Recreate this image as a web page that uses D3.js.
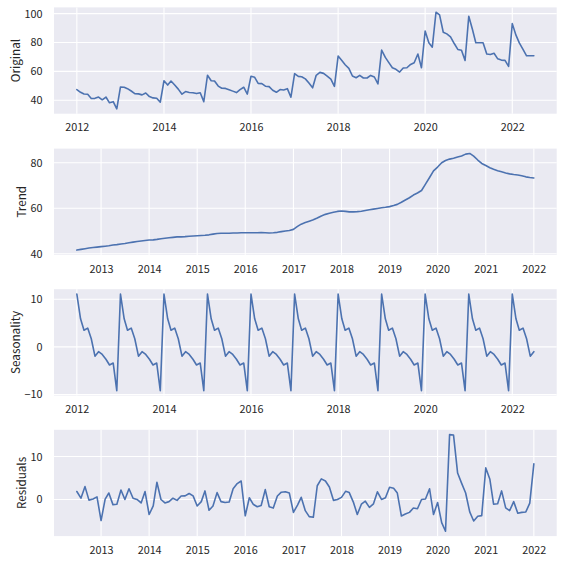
<!DOCTYPE html>
<html><head><meta charset="utf-8">
<script src="https://cdn.jsdelivr.net/npm/d3@7"></script>
<style>body{margin:0;background:#fff} svg{display:block}</style>
</head><body><svg id="c" width="564" height="564"></svg>
<script>
// ---- data (monthly) ----
const originalStart = "2012-01-01";
const trendStart = "2012-07-01";
const originalValues = [
 47.4,45.5,44.3,44.1,41.2,41.3,42.2,40.3,42.2,38.2,39.0,34.0,
 49.2,49.0,48.0,46.4,44.6,44.4,43.7,45.0,42.5,41.6,41.4,38.6,
 53.5,50.5,53.3,50.5,47.7,44.2,46.0,45.3,45.2,44.6,45.2,39.0,
 57.3,53.5,53.3,49.8,48.3,48.2,47.3,46.3,45.3,47.3,49.0,44.2,
 56.6,55.9,51.7,51.5,49.7,49.4,46.9,45.5,47.4,47.1,48.0,42.1,
 58.4,56.5,56.3,54.8,52.0,48.6,57.3,59.3,58.6,56.7,54.6,49.6,
 70.6,67.5,64.6,62.1,56.8,55.6,57.2,55.4,55.4,57.2,56.1,51.3,
 74.7,69.7,66.2,62.5,61.4,59.5,62.3,62.5,64.8,66.0,72.0,62.5,
 88.0,79.8,76.8,101.0,99.2,87.1,86.0,83.9,79.3,75.2,74.7,67.6,
 98.2,89.0,79.8,79.8,79.8,72.0,71.7,72.6,68.7,67.8,67.6,63.4,
 93.1,85.1,79.8,75.2,70.8,70.8,70.8
];
const trendValues = [
 41.6,41.9,42.2,42.5,42.7,42.9,
 43.1,43.3,43.5,43.8,44.0,44.3,44.5,44.8,45.1,45.4,45.6,45.8,
 46.0,46.1,46.3,46.6,46.8,47.0,47.2,47.4,47.4,47.5,47.7,47.8,
 47.9,48.0,48.1,48.3,48.6,48.9,49.0,49.0,49.0,49.1,49.1,49.2,
 49.2,49.2,49.2,49.2,49.3,49.2,49.1,49.2,49.4,49.7,50.0,50.2,
 50.7,52.0,53.0,53.7,54.3,54.9,55.7,56.6,57.3,57.8,58.2,58.6,
 58.8,58.6,58.4,58.4,58.5,58.7,59.0,59.3,59.6,59.9,60.2,60.4,
 60.7,61.2,61.7,62.6,63.6,64.6,65.8,66.7,67.8,70.6,73.5,76.4,
 78.1,80.0,81.0,81.6,82.0,82.5,83.0,83.8,84.1,82.9,81.2,79.7,
 78.8,77.8,77.1,76.5,76.0,75.5,75.1,74.8,74.6,74.3,73.8,73.5,
 73.3
];
const seasonalValues = [
 11.1,5.9,3.5,3.95,1.7,-1.95,-1.0,-1.6,-2.6,-3.8,-3.4,-9.2,
 11.1,5.9,3.5,3.95,1.7,-1.95,-1.0,-1.6,-2.6,-3.8,-3.4,-9.2,
 11.1,5.9,3.5,3.95,1.7,-1.95,-1.0,-1.6,-2.6,-3.8,-3.4,-9.2,
 11.1,5.9,3.5,3.95,1.7,-1.95,-1.0,-1.6,-2.6,-3.8,-3.4,-9.2,
 11.1,5.9,3.5,3.95,1.7,-1.95,-1.0,-1.6,-2.6,-3.8,-3.4,-9.2,
 11.1,5.9,3.5,3.95,1.7,-1.95,-1.0,-1.6,-2.6,-3.8,-3.4,-9.2,
 11.1,5.9,3.5,3.95,1.7,-1.95,-1.0,-1.6,-2.6,-3.8,-3.4,-9.2,
 11.1,5.9,3.5,3.95,1.7,-1.95,-1.0,-1.6,-2.6,-3.8,-3.4,-9.2,
 11.1,5.9,3.5,3.95,1.7,-1.95,-1.0,-1.6,-2.6,-3.8,-3.4,-9.2,
 11.1,5.9,3.5,3.95,1.7,-1.95,-1.0,-1.6,-2.6,-3.8,-3.4,-9.2,
 11.1,5.9,3.5,3.95,1.7,-1.95,-1.0
];
const residualValues = [
 1.85,0.3,3.0,-0.15,0.1,0.6,
 -4.9,0.1,1.5,-1.2,-1.1,2.2,0.0,2.5,0.3,0.0,-0.8,1.85,
 -3.5,-1.5,4.0,0.0,-0.8,-0.5,0.3,-0.2,0.8,0.85,1.4,0.85,
 -1.5,-0.5,2.0,-2.5,-1.5,1.6,-0.5,-0.7,-0.6,2.5,3.7,4.3,
 -3.8,0.4,-1.1,-1.7,-1.4,2.3,-1.7,-2.0,0.8,1.7,1.8,1.5,
 -3.0,-1.3,0.5,-2.6,-4.0,-4.15,3.2,4.8,4.3,2.9,-0.2,0.0,
 0.5,1.9,1.6,-0.6,-3.5,-1.1,-0.4,-1.85,-1.0,1.8,0.0,0.4,
 2.85,2.6,1.5,-3.85,-3.4,-3.0,-2.0,-2.15,0.0,0.1,2.5,-3.5,
 -0.7,-5.4,-7.4,15.1,15.0,6.15,3.8,1.5,-2.9,-5.0,-3.9,-3.75,
 7.35,4.7,-1.1,-1.0,2.0,-1.95,-2.6,-0.5,-3.2,-3.0,-2.9,-0.85,
 8.3
];
const panelLabels = ["Original","Trend","Seasonality","Residuals"];
const yTickValues = [[40,60,80,100],[40,60,80],[-10,0,10],[0,10]];
const xTickYearsFull = [2012,2014,2016,2018,2020,2022];
const xTickYearsTrend = [2013,2014,2015,2016,2017,2018,2019,2020,2021,2022];

// ---- layout / style ----
const W = 564, left = 54, right = 556.7, panelH = 106.3;
const tops = [7.4, 148.6, 289.2, 429.8];
const bg = "#EAEAF2", lineColor = "#4C72B0", textColor = "#262626";
const FONT = "'Noto Sans CJK JP','Noto Sans',sans-serif";

const svg = d3.select("#c");
svg.append("rect").attr("width",W).attr("height",W).attr("fill","#fff");

function dates(startStr, n){
  const s = new Date(startStr+"T00:00:00Z");
  return d3.range(n).map(i => d3.utcMonth.offset(s, i));
}
function padExtent(ext){ const d=(ext[1]-ext[0])*0.05; return [ext[0]-d, ext[1]+d]; }

const series = [
  {vals: originalValues, start: originalStart, ticks: xTickYearsFull},
  {vals: trendValues, start: trendStart, ticks: xTickYearsTrend},
  {vals: seasonalValues, start: originalStart, ticks: xTickYearsFull},
  {vals: residualValues, start: trendStart, ticks: xTickYearsTrend}
];

series.forEach((s, i) => {
  const top = tops[i], bottom = top + panelH;
  const ds = dates(s.start, s.vals.length);
  const data = ds.map((d,k)=>({d, v:s.vals[k]}));
  const tExt = d3.extent(ds, d=>+d);
  const x = d3.scaleUtc().domain(padExtent(tExt).map(t=>new Date(t))).range([left,right]);
  const y = d3.scaleLinear().domain(padExtent(d3.extent(s.vals))).range([bottom, top]);
  const g = svg.append("g");
  g.append("rect").attr("x",left).attr("y",top).attr("width",right-left).attr("height",panelH).attr("fill",bg);
  const xt = s.ticks.map(yr => new Date(Date.UTC(yr,0,1)));
  // grid
  g.selectAll(".vg").data(xt).enter().append("line")
    .attr("x1",d=>x(d)).attr("x2",d=>x(d)).attr("y1",top).attr("y2",bottom)
    .attr("stroke","#fff").attr("stroke-width",1.1);
  g.selectAll(".hg").data(yTickValues[i]).enter().append("line")
    .attr("x1",left).attr("x2",right).attr("y1",d=>y(d)).attr("y2",d=>y(d))
    .attr("stroke","#fff").attr("stroke-width",1.1);
  // axes labels via d3 axes (no domain, no tick lines)
  const xa = g.append("g").attr("transform",`translate(0,${bottom})`)
    .call(d3.axisBottom(x).tickValues(xt).tickSize(0).tickPadding(10).tickFormat(d3.utcFormat("%Y")));
  xa.select(".domain").remove();
  xa.selectAll("text").attr("font-family",FONT).attr("font-size",10.8).attr("fill",textColor);
  const ya = g.append("g").attr("transform",`translate(${left},0)`)
    .call(d3.axisLeft(y).tickValues(yTickValues[i]).tickSize(0).tickPadding(11.5)
      .tickFormat(v => v<0 ? "\u2212"+Math.abs(v) : String(v)));
  ya.select(".domain").remove();
  ya.selectAll("text").attr("font-family",FONT).attr("font-size",10.8).attr("fill",textColor);
  // line
  g.append("path").datum(data)
    .attr("d", d3.line().x(p=>x(p.d)).y(p=>y(p.v)))
    .attr("fill","none").attr("stroke",lineColor).attr("stroke-width",1.6)
    .attr("stroke-linejoin","round").attr("stroke-linecap","round");
  // y label
  const bb = ya.node().getBBox();
  const lx = bb.x + left - 10;
  svg.append("text").attr("transform",`translate(${lx},${(top+bottom)/2}) rotate(-90)`)
    .attr("text-anchor","middle").attr("dominant-baseline","central")
    .attr("font-family",FONT).attr("font-size",11.7).attr("fill",textColor)
    .text(panelLabels[i]);
});
</script></body></html>
